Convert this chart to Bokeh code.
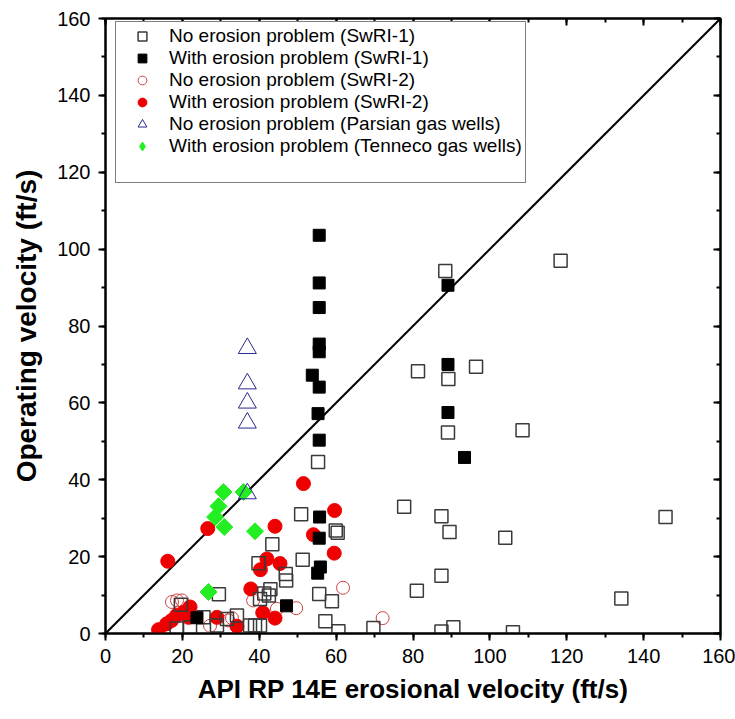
import numpy as np
from bokeh.plotting import figure
from bokeh.models import LinearAxis, SingleIntervalTicker, Legend, LegendItem, Range1d
from bokeh.embed import file_html
from bokeh.resources import INLINE

# ---- data ----
nos1_x = [88.4, 118.4, 81.3, 96.4, 89.2, 89.1, 108.5, 77.7, 87.4, 89.5, 104.0, 145.7, 87.4, 81.0,
          134.2, 87.4, 90.5, 106.0, 55.3, 50.9, 59.9, 60.4, 43.4, 51.3, 46.9, 47.0, 42.9, 42.5,
          41.3, 40.2, 55.6, 58.9, 57.2, 60.6, 69.7, 39.8, 29.5, 19.6, 25.5, 22.0, 18.5, 29.0,
          34.2, 31.6, 37.6, 38.9, 40.2]
nos1_y = [94.3, 97.0, 68.2, 69.4, 66.2, 52.3, 52.9, 33.0, 30.5, 26.4, 24.9, 30.3, 15.0, 11.1,
          9.1, 0.5, 1.6, 0.3, 44.6, 31.0, 26.8, 26.2, 23.2, 19.2, 15.5, 13.8, 11.5, 9.9,
          10.4, 9.0, 10.3, 8.4, 3.2, 0.6, 1.4, 18.3, 10.2, 7.5, 4.2, 1.6, 1.3, 2.1,
          4.7, 3.8, 2.1, 2.1, 2.1]

ero1_x = [55.6, 55.6, 55.6, 55.6, 55.6, 53.8, 55.6, 55.3, 55.6, 55.7, 55.6, 55.9, 55.2, 47.1,
          23.8, 89.1, 89.1, 89.1, 93.4]
ero1_y = [103.6, 91.2, 84.8, 75.3, 73.3, 67.2, 64.1, 57.2, 50.3, 30.3, 24.8, 17.3, 15.7, 7.2,
          4.1, 90.6, 70.0, 57.5, 45.8]

nos2_x = [61.8, 44.6, 49.6, 72.1, 17.3, 18.6, 19.9, 27.2, 32.0, 32.9, 38.4]
nos2_y = [11.9, 6.4, 6.6, 4.0, 8.2, 8.6, 8.6, 2.0, 3.4, 4.0, 8.6]

ero2_x = [51.5, 59.6, 44.1, 54.1, 59.5, 45.4, 42.0, 40.3, 26.6, 16.2, 37.8, 40.9, 44.1, 34.2,
          29.0, 22.0, 20.3, 18.5, 17.2, 15.9, 13.8, 21.6]
ero2_y = [39.0, 32.0, 27.9, 25.7, 20.9, 18.2, 19.4, 16.6, 27.3, 18.8, 11.6, 5.4, 4.0, 1.9,
          4.2, 6.9, 5.5, 4.7, 3.4, 2.5, 1.0, 4.2]

parsian_x = [36.9, 36.9, 36.9, 36.9, 36.9]
parsian_y = [74.2, 65.0, 60.0, 54.8, 36.4]

tenneco_x = [30.7, 29.4, 28.5, 30.9, 35.9, 38.9, 26.8]
tenneco_y = [36.8, 33.1, 30.3, 27.7, 36.8, 26.6, 10.8]

line_x = [0, 160]
line_y = [0, 160]

labels = ["No erosion problem (SwRI-1)",
          "With erosion problem (SwRI-1)",
          "No erosion problem (SwRI-2)",
          "With erosion problem (SwRI-2)",
          "No erosion problem (Parsian gas wells)",
          "With erosion problem (Tenneco gas wells)"]

FONT = "Liberation Sans"
GREEN = "#22ee22"

p = figure(width=735, height=719, x_range=Range1d(0, 160), y_range=Range1d(0, 160),
           output_backend="svg", toolbar_location=None,
           min_border_left=105, min_border_right=15, min_border_top=18, min_border_bottom=86,
           x_axis_label="API RP 14E erosional velocity (ft/s)",
           y_axis_label="Operating velocity (ft/s)")
p.grid.visible = False
p.outline_line_color = "black"
p.outline_line_width = 2
p.background_fill_color = "white"
p.border_fill_color = "white"

for ax in (p.xaxis[0], p.yaxis[0]):
    ax.ticker = SingleIntervalTicker(interval=20, num_minor_ticks=2)
    ax.axis_line_width = 2
    ax.major_tick_line_width = 2
    ax.minor_tick_line_width = 2
    ax.major_tick_out = 7
    ax.major_tick_in = 0
    ax.minor_tick_out = 4
    ax.minor_tick_in = 0
    ax.major_label_text_font = FONT
    ax.major_label_text_font_size = "20px"
    ax.major_label_text_color = "black"
    ax.axis_label_text_font = FONT
    ax.axis_label_text_font_style = "bold"
    ax.axis_label_text_color = "black"

p.xaxis[0].axis_label_text_font_size = "26px"
p.xaxis[0].major_label_standoff = 8
p.xaxis[0].axis_label_standoff = 8
p.yaxis[0].axis_label_text_font_size = "28px"
p.yaxis[0].major_label_standoff = 8
p.yaxis[0].axis_label_standoff = 12

for side in ("above", "right"):
    ax = LinearAxis(ticker=SingleIntervalTicker(interval=20, num_minor_ticks=2),
                    major_label_text_font_size="1px", major_label_text_color=None,
                    major_label_standoff=0,
                    major_tick_in=7, major_tick_out=0, minor_tick_in=4, minor_tick_out=0,
                    axis_line_width=2, major_tick_line_width=2, minor_tick_line_width=2)
    p.add_layout(ax, side)

p.line(line_x, line_y, line_color="black", line_width=2)

r_nos2 = p.scatter(nos2_x, nos2_y, marker="circle", size=13, fill_color=None,
                   line_color="#cc4444", line_width=1)
r_ero2 = p.scatter(ero2_x, ero2_y, marker="circle", size=14, fill_color="#ee0000",
                   line_color="#ee0000")
r_nos1 = p.scatter(nos1_x, nos1_y, marker="square", size=13, fill_color=None,
                   line_color="#3a3a3a", line_width=1.5)
r_ero1 = p.scatter(ero1_x, ero1_y, marker="square", size=12, fill_color="black",
                   line_color="black")
r_ten = p.scatter(tenneco_x, tenneco_y, marker="square", angle=np.pi / 4, size=12,
                  fill_color=GREEN, line_color=GREEN)
r_par = p.scatter(parsian_x, parsian_y, marker="triangle", size=18, fill_color=None,
                  line_color="#2a2a8c", line_width=1)
# legend-only glyph for the diamond (legend ignores marker angle)
r_ten_leg = p.scatter([-50], [-50], marker="diamond", size=12, fill_color=GREEN,
                      line_color=GREEN)
r_blank = p.scatter([-50], [-50], marker="square", size=1, fill_alpha=0, line_alpha=0)

legend = Legend(items=[LegendItem(label=labels[0], renderers=[r_nos1]),
                       LegendItem(label=labels[1], renderers=[r_ero1]),
                       LegendItem(label=labels[2], renderers=[r_nos2]),
                       LegendItem(label=labels[3], renderers=[r_ero2]),
                       LegendItem(label=labels[4], renderers=[r_par]),
                       LegendItem(label=labels[5], renderers=[r_ten_leg]),
                       LegendItem(label=" ", renderers=[r_blank])],
                location=(10, 450), padding=3, spacing=0, margin=0,
                glyph_width=46, glyph_height=22, label_height=22, label_standoff=4,
                label_text_font=FONT, label_text_font_size="19px", label_text_color="black",
                border_line_color="black", border_line_width=1,
                background_fill_color="white", background_fill_alpha=1)
p.add_layout(legend, "center")

open("out.html", "w").write(file_html(p, INLINE))
